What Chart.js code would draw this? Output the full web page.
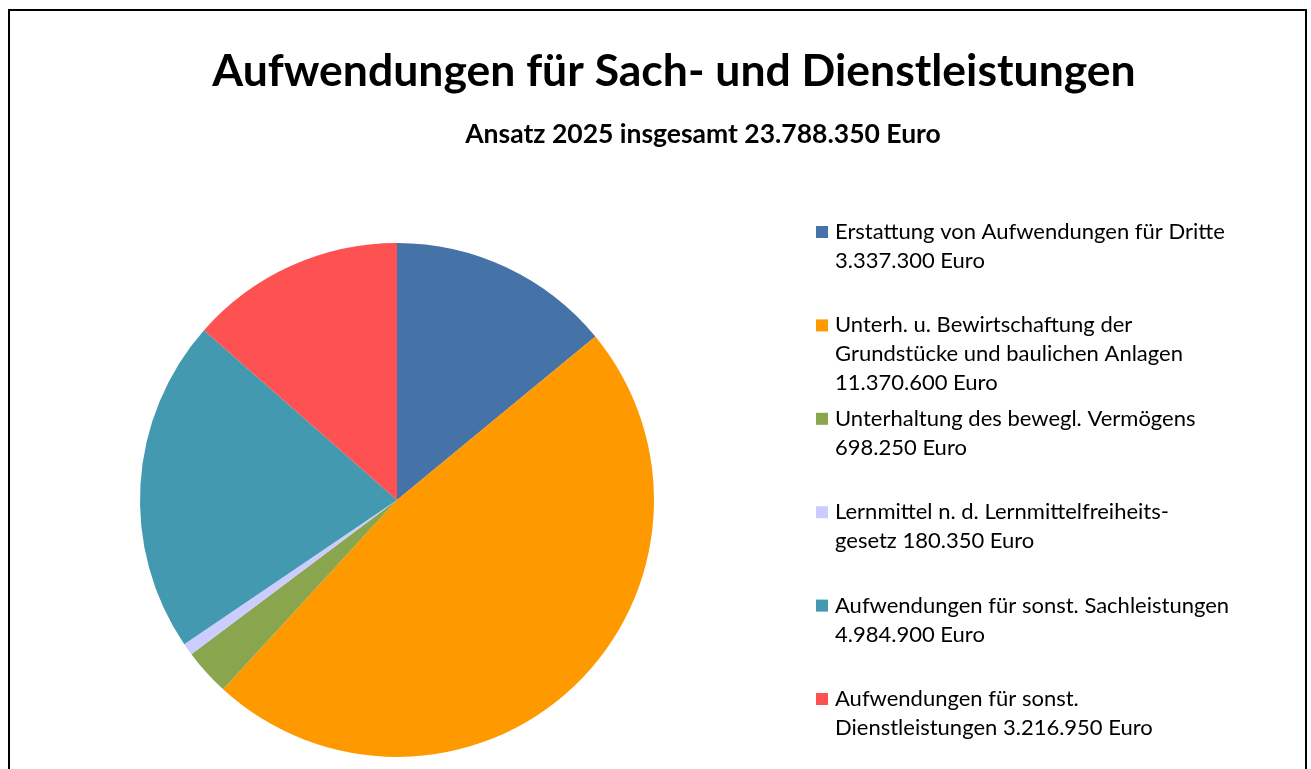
<!DOCTYPE html>
<html lang="de">
<head>
<meta charset="utf-8">
<title>Aufwendungen für Sach- und Dienstleistungen</title>
<script src="https://cdn.jsdelivr.net/npm/chart.js@4/dist/chart.umd.min.js"></script>
<style>
  html, body { margin: 0; padding: 0; background: #fff; overflow: hidden; }
  #wrap { position: relative; width: 1311px; height: 769px; }
</style>
</head>
<body>
<div id="wrap"><canvas id="graf_sach"></canvas></div>
<script>
// Daten
const titel = 'Aufwendungen für Sach- und Dienstleistungen'
const untertitel = 'Ansatz 2025 insgesamt 23.788.350 Euro'
const kategorien = [
  ['Erstattung von Aufwendungen für Dritte'],
  ['Unterh. u. Bewirtschaftung der', 'Grundstücke und baulichen Anlagen'],
  ['Unterhaltung des bewegl. Vermögens'],
  ['Lernmittel n. d. Lernmittelfreiheits-', 'gesetz'],
  ['Aufwendungen für sonst. Sachleistungen'],
  ['Aufwendungen für sonst.', 'Dienstleistungen']
]
const betraege = [3337300, 11370600, 698250, 180350, 4984900, 3216950]
// Betrag in eigener Zeile?
const betragNeueZeile = [true, true, true, false, true, false]
const farben = ['#4573A7', '#FE9900', '#89A54E', '#CCCCFF', '#4399B0', '#FE5151']

const schrift = 'Lato, "Open Sans", sans-serif'

function euro(v) {
  return v.toLocaleString('de-DE') + ' Euro'
}

function legendenZeilen(i) {
  let zeilen = kategorien[i].slice()
  if (betragNeueZeile[i]) {
    zeilen.push(euro(betraege[i]))
  } else {
    zeilen[zeilen.length - 1] += ' ' + euro(betraege[i])
  }
  return zeilen
}

// Rahmen, Titel und Legende
const beschriftung = {
  id: 'beschriftung',
  beforeDraw(chart) {
    const c = chart.ctx
    c.save()
    c.fillStyle = '#fff'
    c.fillRect(0, 0, chart.width, chart.height)
    c.strokeStyle = '#000'
    c.lineWidth = 2
    c.strokeRect(9, 10, 1297, 800)
    c.restore()
  },
  afterDraw(chart) {
    const c = chart.ctx
    c.save()
    c.fillStyle = '#000'
    c.textAlign = 'center'
    c.textBaseline = 'middle'
    c.font = 'bold 44.5px ' + schrift
    c.fillText(titel, 674, 72)
    c.font = 'bold 26.5px ' + schrift
    c.fillText(untertitel, 703, 134)

    c.textAlign = 'left'
    c.font = '22px ' + schrift
    const start = 232, schritt = 93.4, zeilenHoehe = 29
    for (let i = 0; i < betraege.length; i++) {
      const y0 = start + i * schritt
      c.fillStyle = farben[i]
      c.fillRect(816, y0 - 6, 12, 12)
      c.fillStyle = '#000'
      legendenZeilen(i).forEach((z, k) => {
        c.fillText(z, 835, y0 + k * zeilenHoehe)
      })
    }
    c.restore()
  }
}

let graf_sach = new Chart(document.getElementById('graf_sach'), {
  type: 'pie',
  data: {
    labels: kategorien.map(k => k.join(' ')),
    datasets: [{
      data: betraege,
      backgroundColor: farben,
      borderWidth: 0
    }]
  },
  options: {
    responsive: true,
    maintainAspectRatio: false,
    animation: false,
    layout: {
      padding: { left: 140, right: 657, top: 243, bottom: 12 }
    },
    plugins: {
      legend: { display: false },
      title: { display: false },
      tooltip: { enabled: false }
    }
  },
  plugins: [beschriftung]
});
</script>
</body>
</html>
